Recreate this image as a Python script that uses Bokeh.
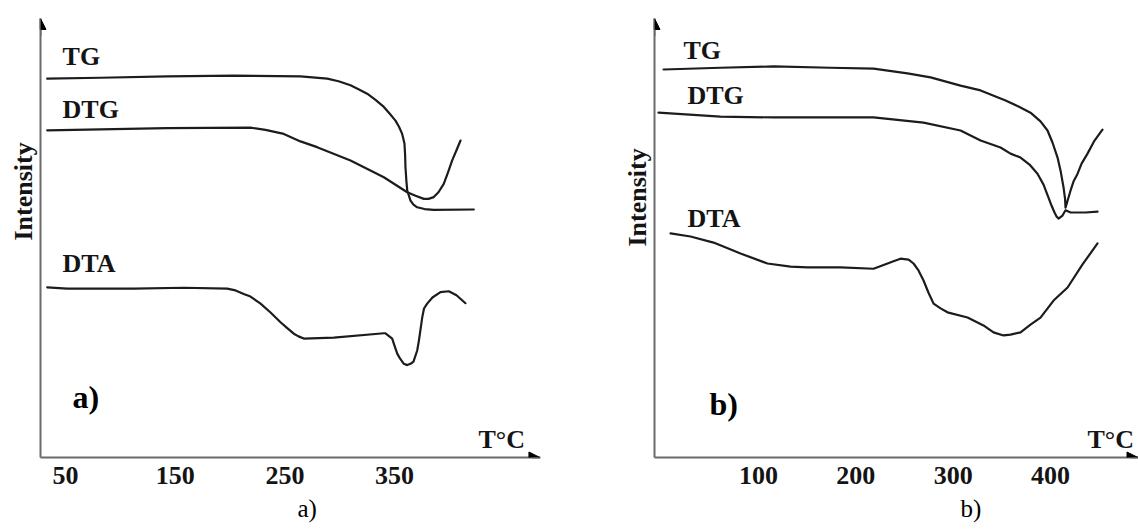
import math
from bokeh.plotting import figure
from bokeh.models import Range1d, FixedTicker, Label, Arrow, NormalHead, Title
from bokeh.layouts import row
from bokeh.embed import file_html
from bokeh.resources import INLINE

# ---------------- data: panel a ----------------
a_ticks = [50, 150, 250, 350]
a_tg_t = [33.3, 81.9, 142.7, 203.4, 264.2, 288.6, 298.9, 309.8, 317.1, 325.0, 332.6, 340.2,
          345.4, 350.8, 354.0, 356.9, 359.0, 359.6, 359.9, 360.7, 361.5, 364.5, 367.2,
          370.6, 377.3, 385.7, 422.2]
a_tg_i = [85.7, 85.9, 86.2, 86.4, 86.2, 85.7, 85.1, 84.2, 83.3, 82.3, 80.9, 79.3,
          77.8, 76.2, 74.8, 73.2, 71.0, 68.3, 65.7, 62.7, 60.4, 58.1, 57.2,
          56.6, 56.2, 56.0, 56.1]
a_dtg_t = [33.3, 81.9, 142.7, 218.6, 232.3, 249.0, 264.2, 279.4, 309.8, 340.2, 361.5, 369.1,
           376.6, 380.9, 385.7, 390.0, 394.8, 398.7, 402.5, 406.4, 410.1]
a_dtg_i = [74.0, 74.2, 74.5, 74.6, 74.1, 73.2, 71.5, 70.2, 67.2, 63.4, 60.0, 59.2,
           58.5, 58.5, 58.9, 60.0, 61.9, 64.5, 67.2, 69.5, 71.7]
a_dta_t = [33.3, 51.5, 112.3, 157.8, 197.4, 205.0, 212.5, 218.6, 227.8, 236.9, 246.0, 252.4,
           258.1, 262.4, 267.2, 294.6, 340.2, 341.7, 347.8, 349.9, 352.4, 354.9, 358.4,
           361.5, 364.5, 367.2, 370.6, 372.2, 375.2, 376.8, 379.7, 384.5, 391.8, 399.4,
           406.4, 414.6]
a_dta_i = [38.5, 38.2, 38.2, 38.4, 38.2, 37.8, 37.0, 36.4, 34.8, 32.8, 30.6, 29.2,
           28.0, 27.4, 26.9, 27.1, 28.1, 28.1, 26.9, 25.3, 23.5, 22.4, 21.2,
           20.9, 21.2, 21.7, 24.2, 26.5, 31.7, 33.7, 34.8, 36.2, 37.4, 37.6,
           36.7, 34.9]

# ---------------- data: panel b ----------------
b_ticks = [100, 200, 300, 400]
b_tg_t = [2.4, 60.9, 115.4, 174.0, 218.2, 253.1, 276.8, 307.6, 328.2, 353.9, 367.2, 379.5,
          389.8, 397.0, 402.2, 407.3, 410.4, 413.5, 415.0, 415.5, 420.6, 423.7, 427.9,
          432.0, 438.1, 445.3, 453.5]
b_tg_i = [89.0, 89.4, 89.7, 89.4, 89.2, 88.1, 87.2, 85.3, 84.2, 81.9, 80.5, 79.1,
          77.1, 75.0, 72.2, 68.8, 65.8, 61.9, 59.4, 57.3, 61.2, 63.3, 65.1,
          67.4, 69.7, 72.7, 75.2]
b_dtg_t = [-2.8, 60.9, 115.4, 174.0, 218.2, 269.6, 307.6, 328.2, 348.7, 359.0, 369.3, 378.5,
           386.7, 392.9, 398.0, 401.1, 404.2, 406.3, 408.3, 412.4, 415.5, 420.7, 436.1, 448.4]
b_dtg_i = [79.1, 78.2, 78.0, 78.0, 78.0, 76.8, 75.0, 72.7, 71.1, 69.7, 68.8, 67.2,
           65.1, 62.6, 59.6, 57.8, 56.2, 55.3, 54.8, 55.5, 56.7, 56.2, 56.2, 56.4]
b_dta_t = [9.6, 30.1, 53.8, 81.5, 109.2, 132.9, 150.4, 184.3, 218.2, 232.6, 238.7, 245.9,
           254.2, 259.3, 264.4, 269.6, 274.7, 279.9, 287.1, 294.2, 314.8, 331.2, 341.5,
           351.8, 359.0, 369.3, 379.5, 389.8, 403.2, 417.6, 433.0, 448.4]
b_dta_i = [51.4, 50.7, 49.3, 46.8, 44.5, 43.8, 43.6, 43.6, 43.3, 44.5, 45.0, 45.6,
           45.4, 44.5, 42.9, 40.6, 37.8, 35.3, 34.2, 33.3, 32.1, 30.3, 28.7,
           28.0, 28.2, 28.7, 30.5, 32.1, 36.0, 39.0, 44.3, 49.1]

FONT = "Liberation Serif"
TXT = "#141414"
LINE = "#1c1c1c"
AXIS = "#6a6a6a"


def make_panel(xr, yr, width, mb_left, mb_right, ticks, curves, labels,
               panel_letter, tc_pos, intensity_offset, caption, caption_offset):
    p = figure(width=width, height=532, x_range=Range1d(*xr), y_range=Range1d(*yr),
               output_backend="svg", toolbar_location=None,
               min_border_left=mb_left, min_border_right=mb_right,
               min_border_top=18, min_border_bottom=75)
    p.outline_line_color = None
    p.grid.visible = False
    p.background_fill_color = "white"
    p.border_fill_color = "white"

    p.xaxis.ticker = FixedTicker(ticks=ticks)
    p.xaxis.major_tick_line_color = None
    p.xaxis.minor_tick_line_color = None
    p.xaxis.major_tick_out = 0
    p.xaxis.major_tick_in = 0
    p.xaxis.major_label_standoff = 9
    p.xaxis.major_label_text_font = FONT
    p.xaxis.major_label_text_font_style = "bold"
    p.xaxis.major_label_text_font_size = "26px"
    p.xaxis.major_label_text_color = TXT
    p.xaxis.axis_line_color = AXIS
    p.xaxis.axis_line_width = 2

    p.yaxis.ticker = FixedTicker(ticks=[])
    p.yaxis.major_tick_line_color = None
    p.yaxis.minor_tick_line_color = None
    p.yaxis.major_tick_out = 0
    p.yaxis.major_tick_in = 0
    p.yaxis.major_label_standoff = 0
    p.yaxis.major_label_text_font_size = "0px"
    p.yaxis.axis_line_color = AXIS
    p.yaxis.axis_line_width = 2

    for xs, ys in curves:
        p.line(xs, ys, line_color=LINE, line_width=2.2, line_join="round", line_cap="round")

    for txt, x, y in labels:
        p.add_layout(Label(x=x, y=y, text=txt, text_font=FONT, text_font_style="bold",
                           text_font_size="26px", text_color=TXT,
                           text_align="left", text_baseline="middle"))

    # panel letter inside the plot
    p.add_layout(Label(x=panel_letter[1], y=panel_letter[2], text=panel_letter[0],
                       text_font=FONT, text_font_style="bold", text_font_size="32px",
                       text_color="black", text_align="left", text_baseline="middle"))

    # axis title "T°C"
    p.add_layout(Label(x=tc_pos[0], y=tc_pos[1], text="T°C", text_font=FONT,
                       text_font_style="bold", text_font_size="26px", text_color=TXT,
                       text_align="left", text_baseline="middle"))

    # y title "Intensity"
    p.add_layout(Title(text="Intensity", align="left", offset=intensity_offset,
                       text_font=FONT, text_font_style="bold", text_font_size="26px",
                       text_color=TXT, standoff=6), "left")

    # caption under the panel
    p.add_layout(Title(text=caption, align="left", offset=caption_offset,
                       text_font=FONT, text_font_style="normal", text_font_size="25px",
                       text_color="black", standoff=12), "below")

    # arrow heads on the axes
    p.add_layout(Arrow(end=NormalHead(size=11, fill_color="black", line_color="black"),
                       x_start=xr[0], y_start=yr[1] - 4, x_end=xr[0], y_end=yr[1],
                       line_color=AXIS, line_width=2))
    p.add_layout(Arrow(end=NormalHead(size=11, fill_color="black", line_color="black"),
                       x_start=xr[1] - 8, y_start=0, x_end=xr[1] - 0.5, y_end=0,
                       line_color=AXIS, line_width=2))
    return p


pa = make_panel((27.2, 483.0), (0, 99.3), 600, 40, 60, a_ticks,
                [(a_tg_t, a_tg_i), (a_dtg_t, a_dtg_i), (a_dta_t, a_dta_i)],
                [("TG", 47.3, 90.6), ("DTG", 47.3, 78.7), ("DTA", 47.3, 43.8)],
                ("a)", 56.4, 13.6), (426.5, 4.1), 217, "a)", 257)

pb = make_panel((-6.9, 490.5), (0, 100.7), 538, 54, 0, b_ticks,
                [(b_tg_t, b_tg_i), (b_dtg_t, b_dtg_i), (b_dta_t, b_dta_i)],
                [("TG", 22.9, 93.3), ("DTG", 27.0, 83.0), ("DTA", 27.0, 54.8)],
                ("b)", 49.6, 12.2), (438.1, 4.1), 211, "b)", 306)

layout = row(pa, pb)
open("out.html", "w").write(file_html(layout, INLINE))
